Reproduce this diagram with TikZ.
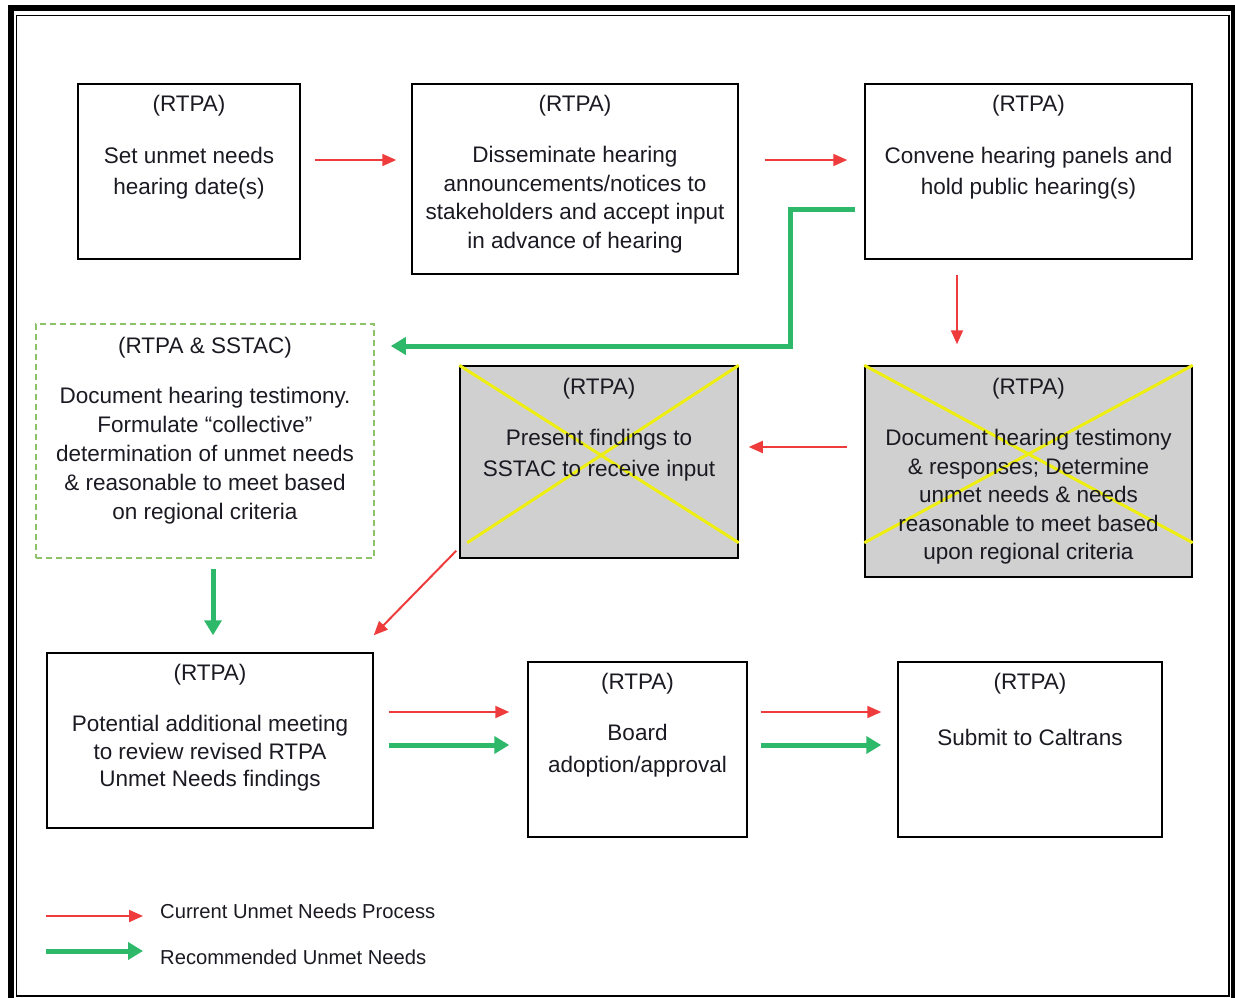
\documentclass[tikz,border=0pt]{standalone}
\usepackage{fontspec}
\setmainfont{Liberation Sans}
\usetikzlibrary{arrows.meta,calc}
\definecolor{redc}{HTML}{EE3B3B}
\definecolor{greenc}{HTML}{2EB86A}
\definecolor{dashg}{HTML}{8EC26A}
\definecolor{grayf}{HTML}{D0D0D0}
\definecolor{yel}{HTML}{EEEE10}
\definecolor{txtc}{HTML}{1A1A22}
\begin{document}
\begin{tikzpicture}[x=1pt,y=-1pt,
  box/.style={draw=black,line width=1.5pt,rectangle,inner sep=0pt},
  graybox/.style={box,fill=grayf},
  dbox/.style={draw=dashg,line width=1.6pt,dash pattern=on 6pt off 4pt,rectangle,inner sep=0pt},
  txt/.style={text=txtc,align=center,inner sep=0pt,font=\fontsize{22.5}{29}\selectfont},
  leg/.style={text=txtc,inner sep=0pt,anchor=west,font=\fontsize{20.2}{24}\selectfont},
  redarr/.style={draw=redc,line width=2pt,-{Triangle[length=14pt,width=12pt]}},
  greenarr/.style={draw=greenc,line width=5pt,-{Triangle[length=15pt,width=17pt]}},
  cross/.style={draw=yel,line width=3pt}]
\useasboundingbox (0,0) rectangle (1235,998);
% frame
\draw[line width=6pt,black] (11,8.5) rectangle (1233.5,1001);
\draw[line width=1.5pt,black] (16.5,15.5) rectangle (1229,996);
% boxes
\node[box,minimum width=222pt,minimum height=175pt] (b1) at (189,171.5) {};
\node[box,minimum width=326pt,minimum height=190pt] (b2) at (575,179) {};
\node[box,minimum width=327pt,minimum height=175pt] (b3) at (1028.5,171.5) {};
\node[dbox,minimum width=338pt,minimum height=234pt] (b4) at (205,441) {};
\node[graybox,minimum width=278pt,minimum height=192pt] (b5) at (599,462) {};
\node[graybox,minimum width=327pt,minimum height=211pt] (b6) at (1028.5,471.5) {};
\node[box,minimum width=326pt,minimum height=175pt] (b7) at (210,740.5) {};
\node[box,minimum width=219pt,minimum height=175pt] (b8) at (637.5,749.5) {};
\node[box,minimum width=264pt,minimum height=175pt] (b9) at (1030,749.5) {};
% crosses
\draw[cross] (b5.north west) -- ([yshift=16pt]b5.south east);
\draw[cross] (b5.north east) -- ([shift={(8pt,16pt)}]b5.south west);
\draw[cross] (b6.north west) -- ([yshift=35pt]b6.south east);
\draw[cross] (b6.north east) -- ([yshift=35pt]b6.south west);
% texts
\node[txt] (t1h) at (189,106) {(RTPA)};
\node[txt,font=\fontsize{22.5}{31}\selectfont] (t1) at (189,173) {Set unmet needs\\hearing date(s)};
\node[txt] (t2h) at (575,106) {(RTPA)};
\node[txt,font=\fontsize{22.5}{28.5}\selectfont] (t2) at (575,199.5) {Disseminate hearing\\announcements/notices to\\stakeholders and accept input\\in advance of hearing};
\node[txt] (t3h) at (1028.5,106) {(RTPA)};
\node[txt,font=\fontsize{22.5}{31}\selectfont] (t3) at (1028.5,173) {Convene hearing panels and\\hold public hearing(s)};
\node[txt] (t4h) at (205,348) {(RTPA \& SSTAC)};
\node[txt,font=\fontsize{22.5}{29}\selectfont] (t4) at (205,456) {Document hearing testimony.\\Formulate “collective”\\determination of unmet needs\\\& reasonable to meet based\\on regional criteria};
\node[txt] (t5h) at (599,389) {(RTPA)};
\node[txt,font=\fontsize{22.5}{31}\selectfont] (t5) at (599,455.5) {Present findings to\\SSTAC to receive input};
\node[txt] (t6h) at (1028.5,389) {(RTPA)};
\node[txt,font=\fontsize{22.5}{28.5}\selectfont] (t6) at (1028.5,497) {Document hearing testimony\\\& responses; Determine\\unmet needs \& needs\\reasonable to meet based\\upon regional criteria};
\node[txt] (t7h) at (210,675) {(RTPA)};
\node[txt,font=\fontsize{22.5}{27.5}\selectfont] (t7) at (210,753.5) {Potential additional meeting\\to review revised RTPA\\Unmet Needs findings};
\node[txt] (t8h) at (637.5,684) {(RTPA)};
\node[txt,font=\fontsize{22.5}{32}\selectfont] (t8) at (637.5,751) {Board\\adoption/approval};
\node[txt] (t9h) at (1030,684) {(RTPA)};
\node[txt] (t9) at (1030,737) {Submit to Caltrans};
% connectors
\draw[redarr] ([shift={(14,-11.5)}]b1.east) -- ([shift={(-15,-19)}]b2.west);
\draw[redarr] ([shift={(26,-19)}]b2.east) -- ([shift={(-17,-11.5)}]b3.west);
\coordinate (g1) at (790,209);
\coordinate (g2) at (790,346);
\draw[greenarr,-] ([shift={(-9,37.5)}]b3.west) -- (g1) -- (g2) -- ([shift={(28,-95)}]b4.east);
\draw[greenarr] (g2) -- ([shift={(16,-95)}]b4.east);
\draw[redarr] ([shift={(-71.5,15)}]b3.south) -- ([shift={(-71.5,-21)}]b6.north);
\draw[redarr] ([shift={(-17,-24.5)}]b6.west) -- ([shift={(10,-15)}]b5.east);
\draw[redarr] ([shift={(-3,-8)}]b5.south west) -- ([shift={(0,-17)}]b7.north east);
\draw[greenarr] ([shift={(8,10)}]b4.south) -- ([shift={(3,-17)}]b7.north);
\draw[redarr] ([shift={(15,-28.5)}]b7.east) -- ([shift={(-18,-37.5)}]b8.west);
\draw[greenarr] ([shift={(15,4.5)}]b7.east) -- ([shift={(-18,-4.5)}]b8.west);
\draw[redarr] ([shift={(13,-37.5)}]b8.east) -- ([shift={(-16,-37.5)}]b9.west);
\draw[greenarr] ([shift={(13,-4.5)}]b8.east) -- ([shift={(-16,-4.5)}]b9.west);
% legend
\node[leg] (l1) at (160,911) {Current Unmet Needs Process};
\node[leg] (l2) at (160,957) {Recommended Unmet Needs};
\draw[redarr] ([xshift=-114pt,yshift=-5pt]l1.west) -- ([xshift=-17pt,yshift=-5pt]l1.west);
\draw[greenarr] ([xshift=-114pt,yshift=6pt]l2.west) -- ([xshift=-17pt,yshift=6pt]l2.west);
\end{tikzpicture}
\end{document}
